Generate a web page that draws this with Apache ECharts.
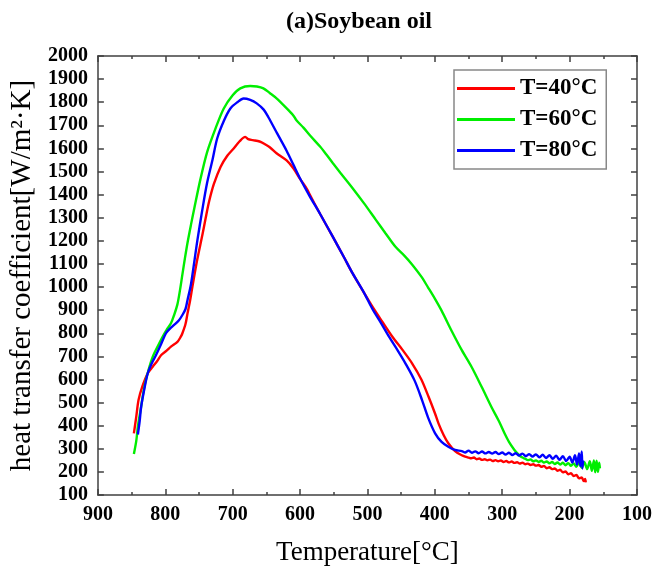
<!DOCTYPE html>
<html>
<head>
<meta charset="utf-8">
<script src="https://cdn.jsdelivr.net/npm/echarts@6/dist/echarts.min.js"></script>
<style>html,body{margin:0;padding:0;background:#fff;}#c{width:658px;height:573px;}</style>
</head>
<body>
<div id="c"></div>
<script>
var titleText = '(a)Soybean oil';
var seriesNames = ['T=40\u00B0C', 'T=60\u00B0C', 'T=80\u00B0C'];
var xTicks = [900, 800, 700, 600, 500, 400, 300, 200, 100];
var yTicks = [100, 200, 300, 400, 500, 600, 700, 800, 900, 1000, 1100, 1200, 1300, 1400, 1500, 1600, 1700, 1800, 1900, 2000];

var tempRed = [846.6,843,839.7,834,826,818.7,812,806,798,791.6,782,777,774.6,770,767,763,759.8,752.5,745,740,735,728,718,708,698.5,690,681.3,677,670,660,654.4,645,634.9,620,610,600,590,586,570,551.5,535,522,505,492.6,478,463,448,433.8,420,409.3,400,394.6,387,380,370,360,355,350,346,342,338,334,330,326,322,318,314,310,306,302,298,294,290,286,282,278,274,270,266,262,258,254,250,246,242,238,234,230,226,222,218,214,210,206,202,198,194,190,186,182,179,177,176];
var hRed = [367,440,511,570,627,655,680,706,725,742,763,785,800,840,886,945,1001,1120,1225,1300,1370,1445,1520,1568,1600,1630,1650,1640,1636,1630,1622,1605,1579,1548,1514,1468,1425,1402,1315,1218,1130,1059,975,915,850,785,728,670,600,525,455,410,360,324,290,272,266,262,259,262,255,258,252,255,250,253,247,251,246,249,243,247,241,245,239,242,236,240,233,236,230,233,227,230,222,226,216,220,212,215,205,209,198,202,190,194,182,187,172,176,160,170,155];

var tempGreen = [846.6,843,840.7,836,831,825,818.7,811,804,798,791.6,787,782,778,774.6,771,767,762,757,748,737.8,725,713.2,700,688.7,674,664,654.4,645,634.9,622,610.3,605.4,595,585.8,570,561.3,551.5,540,522,505,487.8,473,458.4,445,433.8,420,410,400,390,375,360,345.6,330,316.2,305,296.6,290,281.9,278,274,270,266,262,258,254,250,246,242,238,234,230,226,222,218,214,210,206,202,198,194,190,186,182,178,174,170,167,164,162,160,158,156,155];
var hGreen = [277,335,396,480,569,640,698,745,785,815,843,878,925,990,1055,1122,1192,1268,1340,1465,1585,1690,1773,1830,1860,1870,1868,1860,1840,1817,1780,1744,1722,1690,1658,1607,1575,1537,1494,1428,1362,1292,1232,1174,1135,1098,1045,998,950,898,810,727,655,565,482,420,367,330,295,282,270,262,257,251,254,246,250,243,248,240,245,237,243,234,241,232,240,229,238,226,237,222,240,218,242,212,246,205,250,198,248,200,240,215];

var tempBlue = [840.7,838,835.8,831,826,820,813.7,806,799,793,786.8,780,774.6,770,767,762,757.4,752.5,745,738,730,723,713,703.4,693,683.8,674,664.3,654,647,634,620,610,600,586,570,551.5,535,522,505,492.6,480,468,455,443.7,430,419,410,399.6,390,380,370,360,355,350,345,340,335,330,325,320,315,310,305,300,295,290,285,280,275,270,265,260,255,250,245,240,235,230,225,220,215,210,205,200,196,192,189,186,184,182,181,180];
var hBlue = [362,420,482,560,627,670,706,755,800,820,836,855,879,905,944,1010,1100,1200,1335,1450,1550,1643,1720,1773,1800,1816,1810,1795,1768,1735,1665,1590,1530,1470,1395,1315,1218,1130,1059,975,905,845,785,725,670,595,511,435,367,330,309,295,290,284,292,283,289,281,288,280,286,279,286,277,284,275,283,273,281,271,279,268,277,266,276,263,274,260,272,257,270,252,268,247,266,240,272,232,280,225,288,215,250];

function pairs(xs, ys) {
  var out = [];
  for (var i = 0; i < xs.length; i++) out.push([xs[i], ys[i]]);
  return out;
}

var chart = echarts.init(document.getElementById('c'), null, {renderer: 'canvas'});
var serif = "'Liberation Serif', 'Times New Roman', serif";
var axisColor = '#404040';
var plain = function (v) { return String(v); };

var option = {
  backgroundColor: '#ffffff',
  animation: false,
  title: {
    text: titleText,
    left: 281,
    top: 5,
    textStyle: {fontFamily: serif, fontWeight: 'bold', fontSize: 24, color: '#000'}
  },
  legend: {
    left: 454,
    top: 70,
    orient: 'vertical',
    icon: 'rect',
    itemWidth: 58,
    itemHeight: 3,
    itemGap: 8,
    padding: [7, 9, 7, 3],
    borderColor: '#888',
    borderWidth: 1.5,
    backgroundColor: '#fff',
    textStyle: {fontFamily: serif, fontWeight: 'bold', fontSize: 23, color: '#000'},
    data: seriesNames
  },
  grid: {left: 93, top: 56, right: 21, bottom: 78, containLabel: false},
  xAxis: [{
    type: 'value', min: xTicks[xTicks.length - 1], max: xTicks[0], interval: 100, inverse: true,
    position: 'bottom',
    name: 'Temperature[\u00B0C]', nameLocation: 'middle', nameGap: 44,
    nameTextStyle: {fontFamily: serif, fontSize: 27, color: '#000'},
    axisLine: {show: true, lineStyle: {color: axisColor, width: 1.5}},
    axisTick: {show: true, inside: true, length: 6, lineStyle: {color: axisColor, width: 1.5}},
    minorTick: {show: true, splitNumber: 2, length: 3, lineStyle: {color: axisColor, width: 1.5}},
    axisLabel: {fontFamily: serif, fontWeight: 'bold', fontSize: 20, color: '#000', margin: 10, formatter: plain},
    splitLine: {show: false}
  }, {
    type: 'value', min: 100, max: 900, interval: 100, inverse: true,
    position: 'top',
    axisLine: {show: true, lineStyle: {color: axisColor, width: 1.5}},
    axisTick: {show: true, inside: true, length: 6, lineStyle: {color: axisColor, width: 1.5}},
    minorTick: {show: true, splitNumber: 2, length: 3, lineStyle: {color: axisColor, width: 1.5}},
    axisLabel: {show: false},
    splitLine: {show: false}
  }],
  yAxis: [{
    type: 'value', min: yTicks[0], max: yTicks[yTicks.length - 1], interval: 100,
    position: 'left',
    name: 'heat transfer coefficient[W/m\u00B2\u00B7K]', nameLocation: 'middle', nameGap: 58,
    nameTextStyle: {fontFamily: serif, fontSize: 29, color: '#000'},
    axisLine: {show: true, lineStyle: {color: axisColor, width: 1.5}},
    axisTick: {show: true, inside: true, length: 6, lineStyle: {color: axisColor, width: 1.5}},
    axisLabel: {fontFamily: serif, fontWeight: 'bold', fontSize: 20, color: '#000', margin: 10, formatter: plain},
    splitLine: {show: false}
  }, {
    type: 'value', min: 100, max: 2000, interval: 100,
    position: 'right',
    axisLine: {show: true, lineStyle: {color: axisColor, width: 1.5}},
    axisTick: {show: true, inside: true, length: 6, lineStyle: {color: axisColor, width: 1.5}},
    axisLabel: {show: false},
    splitLine: {show: false}
  }],
  series: [{
    name: seriesNames[0], type: 'line', xAxisIndex: 0, yAxisIndex: 0,
    data: pairs(tempRed, hRed), showSymbol: false, smooth: 0.3,
    lineStyle: {color: '#ff0000', width: 2.4}, itemStyle: {color: '#ff0000'}
  }, {
    name: seriesNames[1], type: 'line', xAxisIndex: 0, yAxisIndex: 0,
    data: pairs(tempGreen, hGreen), showSymbol: false, smooth: 0.3,
    lineStyle: {color: '#00ee00', width: 2.4}, itemStyle: {color: '#00ee00'}
  }, {
    name: seriesNames[2], type: 'line', xAxisIndex: 0, yAxisIndex: 0,
    data: pairs(tempBlue, hBlue), showSymbol: false, smooth: 0.3,
    lineStyle: {color: '#0000ff', width: 2.4}, itemStyle: {color: '#0000ff'}
  }]
};
chart.setOption(option);
</script>
</body>
</html>
